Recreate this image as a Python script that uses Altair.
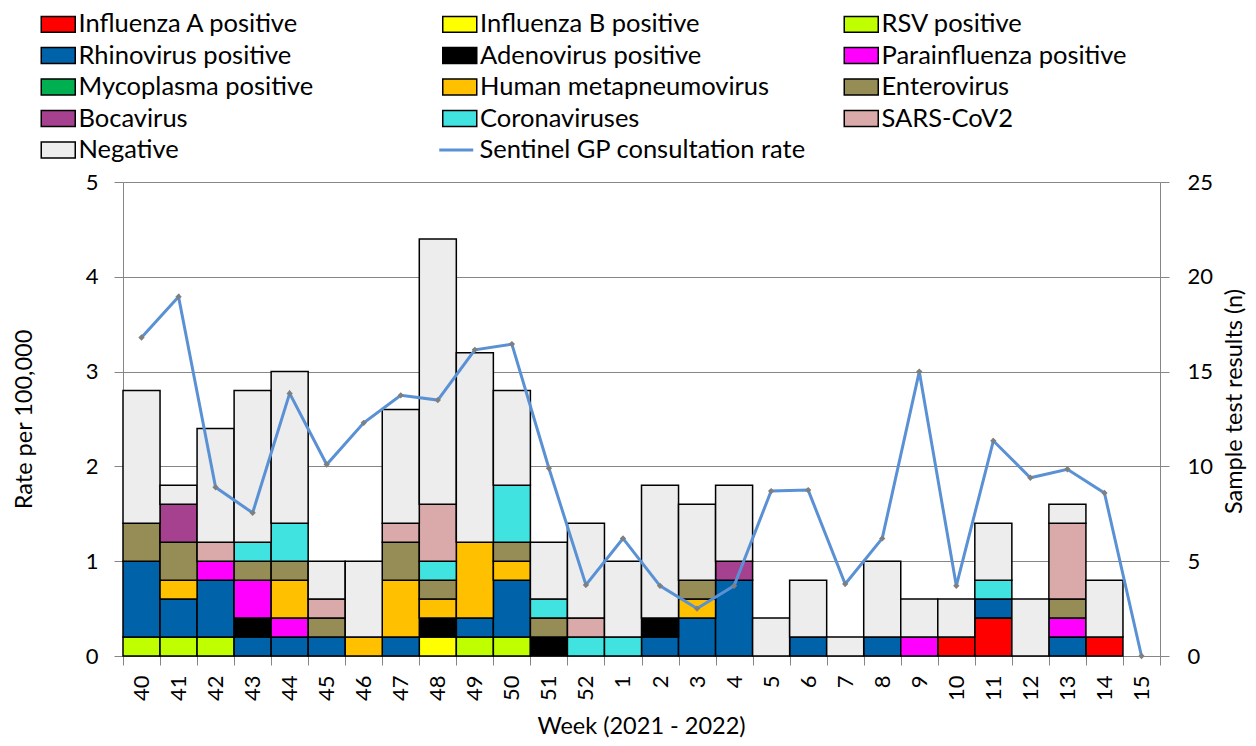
import altair as alt
import pandas as pd

FONT = "Lato"

weeks = ["40", "41", "42", "43", "44", "45", "46", "47", "48", "49", "50", "51", "52",
         "1", "2", "3", "4", "5", "6", "7", "8", "9", "10", "11", "12", "13", "14", "15"]

categories = ["Influenza A positive", "Influenza B positive", "RSV positive",
              "Rhinovirus positive", "Adenovirus positive", "Parainfluenza positive",
              "Mycoplasma positive", "Human metapneumovirus", "Enterovirus",
              "Bocavirus", "Coronaviruses", "SARS-CoV2", "Negative"]
colors = ["#FF0000", "#FFFF00", "#C0FF00", "#0062A8", "#000000", "#FF00FF",
          "#00B050", "#FFC000", "#968C55", "#A5418F", "#40E3E0", "#DAA9A9", "#EDEDED"]

#                 40 41 42 43 44 45 46 47 48 49 50 51 52  1  2  3  4  5  6  7  8  9 10 11 12 13 14 15
influenza_a   = [0, 0, 0, 0, 0, 0, 0, 0, 0, 0, 0, 0, 0, 0, 0, 0, 0, 0, 0, 0, 0, 0, 1, 2, 0, 0, 1, 0]
influenza_b   = [0, 0, 0, 0, 0, 0, 0, 0, 1, 0, 0, 0, 0, 0, 0, 0, 0, 0, 0, 0, 0, 0, 0, 0, 0, 0, 0, 0]
rsv           = [1, 1, 1, 0, 0, 0, 0, 0, 0, 1, 1, 0, 0, 0, 0, 0, 0, 0, 0, 0, 0, 0, 0, 0, 0, 0, 0, 0]
rhinovirus    = [4, 2, 3, 1, 1, 1, 0, 1, 0, 1, 3, 0, 0, 0, 1, 2, 4, 0, 1, 0, 1, 0, 0, 1, 0, 1, 0, 0]
adenovirus    = [0, 0, 0, 1, 0, 0, 0, 0, 1, 0, 0, 1, 0, 0, 1, 0, 0, 0, 0, 0, 0, 0, 0, 0, 0, 0, 0, 0]
parainfluenza = [0, 0, 1, 2, 1, 0, 0, 0, 0, 0, 0, 0, 0, 0, 0, 0, 0, 0, 0, 0, 0, 1, 0, 0, 0, 1, 0, 0]
mycoplasma    = [0, 0, 0, 0, 0, 0, 0, 0, 0, 0, 0, 0, 0, 0, 0, 0, 0, 0, 0, 0, 0, 0, 0, 0, 0, 0, 0, 0]
hmpv          = [0, 1, 0, 0, 2, 0, 1, 3, 1, 4, 1, 0, 0, 0, 0, 1, 0, 0, 0, 0, 0, 0, 0, 0, 0, 0, 0, 0]
enterovirus   = [2, 2, 0, 1, 1, 1, 0, 2, 1, 0, 1, 1, 0, 0, 0, 1, 0, 0, 0, 0, 0, 0, 0, 0, 0, 1, 0, 0]
bocavirus     = [0, 2, 0, 0, 0, 0, 0, 0, 0, 0, 0, 0, 0, 0, 0, 0, 1, 0, 0, 0, 0, 0, 0, 0, 0, 0, 0, 0]
coronaviruses = [0, 0, 0, 1, 2, 0, 0, 0, 1, 0, 3, 1, 1, 1, 0, 0, 0, 0, 0, 0, 0, 0, 0, 1, 0, 0, 0, 0]
sars_cov2     = [0, 0, 1, 0, 0, 1, 0, 1, 3, 0, 0, 0, 1, 0, 0, 0, 0, 0, 0, 0, 0, 0, 0, 0, 0, 4, 0, 0]
negative      = [7, 1, 6, 8, 8, 2, 4, 6, 14, 10, 5, 3, 5, 4, 7, 4, 4, 2, 3, 1, 4, 2, 2, 3, 3, 1, 3, 0]

gp_rate = [3.36, 3.79, 1.78, 1.51, 2.77, 2.02, 2.46, 2.75, 2.70, 3.23, 3.29, 1.98, 0.75, 1.24,
           0.74, 0.50, 0.74, 1.74, 1.75, 0.76, 1.24, 3.00, 0.74, 2.27, 1.88, 1.97, 1.72, 0.00]
line_name = "Sentinel GP consultation rate"

series = [influenza_a, influenza_b, rsv, rhinovirus, adenovirus, parainfluenza, mycoplasma,
          hmpv, enterovirus, bocavirus, coronaviruses, sars_cov2, negative]

rows = []
for ci, (cat, vals) in enumerate(zip(categories, series)):
    for w, v in zip(weeks, vals):
        if v > 0:
            rows.append({"week": w, "category": cat, "count": v, "order": ci})
bars_df = pd.DataFrame(rows)
line_df = pd.DataFrame({"week": weeks, "rate": gp_rate, "series": line_name})

AXIS_GREY = "#868686"
TICK_FS = 22
TITLE_FS = 23.5
LEG_FS = 25.5

x_enc = alt.X(
    "week:N", sort=weeks,
    scale=alt.Scale(paddingInner=0, paddingOuter=0),
    axis=alt.Axis(
        title="Week (2021 - 2022)", labelAngle=-90, tickBand="extent",
        labelFont=FONT, labelFontSize=TICK_FS, labelColor="black", labelPadding=10,
        tickSize=9, tickColor=AXIS_GREY, domainColor=AXIS_GREY,
        titleFont=FONT, titleFontSize=TITLE_FS, titleFontWeight="normal", titleColor="black",
        titleX=518, titleY=70, titleBaseline="middle",
    ),
)

bars = alt.Chart(bars_df).mark_bar(stroke="black", strokeWidth=1.5).encode(
    x=x_enc,
    y=alt.Y(
        "count:Q", stack="zero",
        scale=alt.Scale(domain=[0, 25], nice=False),
        axis=alt.Axis(
            orient="right", values=[0, 5, 10, 15, 20, 25], grid=False, format="d",
            title="Sample test results (n)",
            labelFont=FONT, labelFontSize=TICK_FS, labelColor="black", labelPadding=18,
            tickSize=9, tickColor=AXIS_GREY, domainColor=AXIS_GREY,
            titleFont=FONT, titleFontSize=TITLE_FS, titleFontWeight="normal", titleColor="black",
            titleAngle=-90, titleX=74, titleY=219, titleBaseline="middle",
        ),
    ),
    color=alt.Color(
        "category:N",
        scale=alt.Scale(domain=categories, range=colors),
        legend=alt.Legend(
            orient="none", legendX=-77.5, legendY=-170.75, columns=3, direction="horizontal",
            title=None,
            symbolType="M-2,-0.94H2V0.94H-2Z", symbolSize=289,
            symbolStrokeColor="black", symbolStrokeWidth=1.5, symbolOpacity=1,
            labelFont=FONT, labelFontSize=LEG_FS, labelColor="black", labelOffset=7.5,
            labelLimit=400, gridAlign="all", columnPadding=70.5, rowPadding=4.5, padding=0,
        ),
    ),
    order=alt.Order("order:Q", sort="ascending"),
)

line = alt.Chart(line_df).mark_line(strokeWidth=3).encode(
    x=x_enc,
    y=alt.Y(
        "rate:Q",
        scale=alt.Scale(domain=[0, 5], nice=False),
        axis=alt.Axis(
            orient="left", values=[0, 1, 2, 3, 4, 5], grid=True, format="d",
            gridColor=AXIS_GREY, gridWidth=1.2,
            title="Rate per 100,000",
            labelFont=FONT, labelFontSize=TICK_FS, labelColor="black", labelPadding=16,
            tickSize=9, tickColor=AXIS_GREY, domainColor=AXIS_GREY,
            titleFont=FONT, titleFontSize=TITLE_FS, titleFontWeight="normal", titleColor="black",
            titleX=-99, titleY=237, titleBaseline="middle",
        ),
    ),
    stroke=alt.Stroke(
        "series:N",
        scale=alt.Scale(domain=[line_name], range=["#5A91D5"]),
        legend=alt.Legend(
            orient="none", legendX=320.5, legendY=-44.75, title=None,
            symbolType="M-2,0H2", symbolSize=289, symbolStrokeWidth=3,
            labelFont=FONT, labelFontSize=LEG_FS, labelColor="black", labelOffset=10.5,
            labelLimit=400, padding=0,
        ),
    ),
)

points = alt.Chart(line_df).mark_point(
    shape="diamond", filled=True, color="#7F7F7F", size=40, opacity=1
).encode(
    x=x_enc,
    y=alt.Y("rate:Q", scale=alt.Scale(domain=[0, 5], nice=False)),
)

chart = alt.layer(bars, alt.layer(line, points)).resolve_scale(
    y="independent"
).properties(
    width=1037, height=474,
    autosize=alt.AutoSizeParams(type="none"),
    padding={"left": 115, "top": 174, "right": 87, "bottom": 82},
).configure_view(stroke=None).configure(font=FONT)

chart.save("out.html", embed_options={"renderer": "svg", "actions": False})
